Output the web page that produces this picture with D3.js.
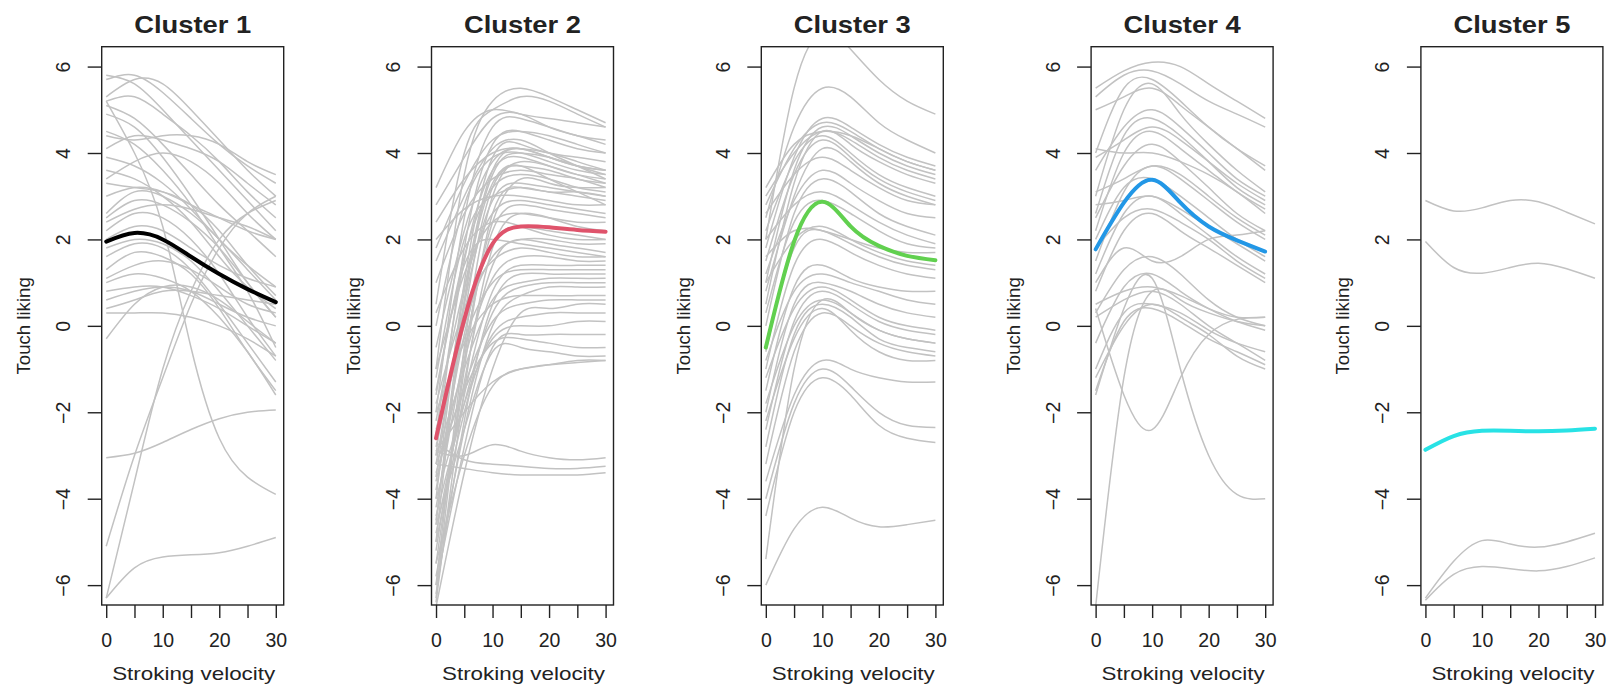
<!DOCTYPE html>
<html>
<head>
<meta charset="utf-8">
<script src="https://cdn.jsdelivr.net/npm/d3@7"></script>
<style>
  body { margin: 0; background: #fff; }
  svg { display: block; font-family: "Liberation Sans", Arial, Helvetica, sans-serif; }
</style>
</head>
<body>
<svg id="chart" width="1608" height="687"></svg>
<script>
var velocity = [0, 5, 10, 15, 20, 25, 30];
var xTicks = [0, 5, 10, 15, 20, 25, 30];
var xTickLabels = [0, 10, 20, 30];
var yTicks = [-6, -4, -2, 0, 2, 4, 6];
var clusterNames = ["Cluster 1", "Cluster 2", "Cluster 3", "Cluster 4", "Cluster 5"];
var meanColors = ["#000000", "#DF536B", "#61D04F", "#2297E6", "#28E2E5"];

var cluster1 = [
  [5.7, 5.8, 5.4, 4.8, 4.2, 3.7, 3.3],
  [5.3, 5.7, 5.6, 5.0, 4.3, 3.6, 3.0],
  [5.8, 5.6, 5.0, 4.3, 3.6, 2.9, 2.2],
  [5.2, 5.3, 4.9, 4.4, 3.8, 3.1, 2.5],
  [5.1, 4.8, 4.2, 3.5, 2.8, 2.2, 1.6],
  [4.9, 4.6, 3.9, 3.0, 2.0, 1.0, 0.2],
  [4.5, 4.2, 3.6, 2.8, 1.8, 0.8, -0.5],
  [4.4, 4.3, 4.4, 4.4, 4.2, 3.8, 3.5],
  [4.1, 4.4, 4.3, 4.1, 3.8, 3.3, 2.8],
  [3.9, 3.7, 3.3, 2.7, 2.0, 1.4, 0.9],
  [3.6, 3.4, 3.0, 2.4, 1.6, 0.9, 0.4],
  [3.4, 3.8, 4.0, 3.8, 3.3, 2.6, 2.0],
  [3.3, 3.2, 3.1, 2.8, 2.2, 1.4, 0.7],
  [3.0, 3.2, 3.1, 2.8, 2.5, 2.2, 2.0],
  [2.6, 3.1, 3.0, 2.6, 2.0, 1.3, 0.6],
  [2.5, 2.9, 2.8, 2.4, 1.8, 1.0, 0.2],
  [2.4, 2.7, 2.8, 2.7, 2.5, 2.3, 2.0],
  [2.2, 2.6, 2.5, 2.0, 1.2, 0.2, -0.7],
  [2.0, 2.3, 2.2, 1.8, 1.4, 1.1, 0.9],
  [1.8, 2.0, 1.9, 1.5, 0.8, 0.0, -0.8],
  [1.6, 1.9, 1.8, 1.3, 0.5, -0.4, -1.3],
  [1.3, 1.7, 1.6, 1.2, 0.4, -0.6, -1.5],
  [1.1, 1.4, 1.5, 1.3, 0.9, 0.5, 0.3],
  [1.0, 1.2, 1.1, 0.8, 0.2, -0.6, -1.6],
  [0.8, 0.9, 0.9, 0.7, 0.4, 0.0, -0.4],
  [0.6, 0.8, 0.9, 0.8, 0.5, 0.2, 0.0],
  [0.4, 0.6, 0.8, 0.8, 0.7, 0.6, 0.5],
  [0.3, 0.3, 0.3, 0.2, 0.0, -0.3, -0.7],
  [-0.3, 0.5, 0.9, 0.9, 0.6, 0.1, -0.4],
  [5.2, 4.0, 2.3, -0.5, -2.6, -3.5, -3.9],
  [-5.1, -3.0, -1.2, 0.5, 1.8, 2.6, 3.0],
  [-6.3, -3.6, -1.0, 0.8, 2.0, 2.6, 2.9],
  [-3.05, -2.95, -2.7, -2.4, -2.15, -2.0, -1.95],
  [-6.3, -5.6, -5.35, -5.3, -5.25, -5.1, -4.9]
];

var cluster2 = [
  [-1.0, 3.5, 5.2, 5.5, 5.3, 5.0, 4.7],
  [0.5, 4.0, 5.0, 5.3, 5.2, 4.9, 4.6],
  [3.2, 4.5, 5.0, 4.9, 4.8, 4.7, 4.6],
  [2.8, 3.9, 4.8, 4.9, 4.6, 4.4, 4.2],
  [-2.0, 2.5, 4.6, 4.8, 4.6, 4.4, 4.3],
  [-3.0, 1.8, 4.2, 4.5, 4.3, 4.1, 4.0],
  [1.8, 3.3, 4.3, 4.5, 4.4, 4.2, 4.0],
  [-4.0, 1.0, 3.9, 4.2, 4.0, 3.9, 3.8],
  [-3.5, 0.8, 3.6, 4.1, 4.0, 3.8, 3.6],
  [-5.0, 0.5, 3.5, 4.0, 3.9, 3.7, 3.5],
  [0.0, 2.8, 3.9, 4.0, 3.8, 3.6, 3.5],
  [-2.5, 1.5, 3.6, 3.9, 3.7, 3.5, 3.4],
  [-6.0, -0.5, 3.0, 3.8, 3.7, 3.5, 3.3],
  [-4.5, 0.2, 3.2, 3.7, 3.6, 3.4, 3.3],
  [1.0, 2.6, 3.4, 3.6, 3.5, 3.4, 3.2],
  [-1.5, 1.6, 3.2, 3.5, 3.4, 3.2, 3.1],
  [-3.2, 0.5, 2.9, 3.3, 3.2, 3.1, 3.0],
  [-5.5, -1.0, 2.6, 3.2, 3.1, 3.0, 2.9],
  [2.0, 2.7, 3.0, 3.0, 2.9, 2.8, 2.8],
  [-2.2, 0.9, 2.6, 2.9, 2.8, 2.7, 2.6],
  [-4.2, -0.6, 2.2, 2.8, 2.7, 2.6, 2.5],
  [-1.0, 1.2, 2.4, 2.6, 2.5, 2.4, 2.4],
  [-6.4, -1.5, 1.8, 2.6, 2.5, 2.3, 2.2],
  [-3.8, -0.2, 1.9, 2.3, 2.2, 2.1, 2.0],
  [-2.8, 0.0, 1.6, 2.0, 2.0, 1.9, 1.9],
  [-5.2, -1.3, 1.4, 2.0, 1.9, 1.8, 1.7],
  [-1.8, 0.4, 1.5, 1.8, 1.7, 1.6, 1.6],
  [-3.6, -0.8, 1.1, 1.6, 1.6, 1.5, 1.5],
  [-4.8, -1.6, 0.8, 1.4, 1.4, 1.4, 1.4],
  [-2.4, -0.3, 1.0, 1.3, 1.3, 1.3, 1.3],
  [-6.2, -2.2, 0.5, 1.2, 1.2, 1.2, 1.2],
  [-3.0, -1.0, 0.6, 1.0, 1.1, 1.1, 1.1],
  [-4.4, -1.8, 0.3, 0.9, 1.0, 1.0, 1.0],
  [-5.8, -2.4, 0.0, 0.7, 0.9, 0.9, 0.9],
  [-2.0, -0.4, 0.5, 0.7, 0.7, 0.7, 0.7],
  [-3.4, -1.4, 0.1, 0.5, 0.6, 0.6, 0.6],
  [-5.0, -2.0, -0.2, 0.2, 0.3, 0.3, 0.3],
  [-4.0, -1.8, -0.3, 0.0, 0.0, 0.1, 0.1],
  [-6.0, -2.8, -0.5, -0.2, -0.2, -0.2, -0.2],
  [-3.2, -1.5, -0.4, -0.3, -0.4, -0.5, -0.5],
  [-4.6, -2.4, -0.6, -0.5, -0.6, -0.7, -0.7],
  [-5.5, -3.0, -1.4, -1.0, -0.9, -0.8, -0.8],
  [-2.9, -2.0, -1.3, -1.0, -0.9, -0.85, -0.8],
  [-2.9, -3.0, -2.75, -2.9, -3.05, -3.1, -3.05],
  [-2.7, -3.1, -3.2, -3.25, -3.3, -3.3, -3.25],
  [-3.2, -3.3, -3.4, -3.45, -3.45, -3.45, -3.4],
  [1.5, 3.0, 4.1, 4.3, 4.0, 3.7, 3.4],
  [2.4, 3.4, 4.0, 4.1, 3.9, 3.7, 3.6],
  [-0.5, 2.2, 3.8, 4.1, 3.9, 3.7, 3.6],
  [-1.2, 2.0, 3.0, 3.2, 3.1, 3.1, 3.0],
  [-4.6, 0.6, 3.3, 3.7, 3.4, 3.1, 2.8],
  [-6.3, -0.8, 2.4, 3.4, 3.3, 3.2, 3.2],
  [0.3, 1.8, 2.4, 2.3, 2.1, 2.0, 2.0],
  [-1.6, 1.4, 2.0, 1.9, 1.8, 1.7, 1.6],
  [-6.5, -3.4, -1.0, 0.3, 0.4, 0.5, 0.5]
];

var cluster3 = [
  [2.0, 5.5, 6.8, 6.4, 5.7, 5.2, 4.9],
  [2.5, 4.6, 5.5, 5.3, 4.7, 4.3, 4.0],
  [1.8, 3.9, 4.8, 4.6, 4.2, 3.9, 3.7],
  [2.8, 4.1, 4.7, 4.5, 4.1, 3.8, 3.6],
  [3.2, 4.2, 4.5, 4.4, 4.1, 3.8, 3.6],
  [1.0, 3.6, 4.6, 4.4, 4.0, 3.7, 3.5],
  [3.0, 4.0, 4.5, 4.3, 3.9, 3.6, 3.4],
  [0.5, 3.3, 4.5, 4.2, 3.8, 3.5, 3.3],
  [2.2, 3.8, 4.4, 4.0, 3.5, 3.2, 3.0],
  [1.5, 3.5, 4.3, 3.9, 3.4, 3.1, 2.9],
  [0.8, 3.0, 4.1, 3.8, 3.3, 3.0, 2.8],
  [2.6, 3.5, 3.9, 3.6, 3.2, 2.9, 2.8],
  [1.2, 2.9, 3.6, 3.3, 2.9, 2.6, 2.5],
  [0.0, 2.6, 3.4, 3.1, 2.6, 2.3, 2.1],
  [2.0, 2.8, 3.1, 2.8, 2.4, 2.1, 1.9],
  [0.3, 2.4, 2.9, 2.6, 2.2, 1.9, 1.8],
  [1.6, 2.2, 2.2, 2.0, 1.8, 1.7, 1.7],
  [1.0, 2.0, 2.3, 2.0, 1.7, 1.5, 1.4],
  [-0.6, 1.8, 2.2, 1.9, 1.6, 1.4, 1.3],
  [-1.0, 1.4, 2.0, 1.7, 1.4, 1.2, 1.1],
  [-1.5, 0.9, 1.4, 1.1, 0.9, 0.8, 0.8],
  [-0.8, 0.8, 1.2, 1.0, 0.8, 0.6, 0.5],
  [-2.0, 0.5, 1.0, 0.8, 0.5, 0.3, 0.2],
  [-1.2, 0.4, 0.9, 0.6, 0.2, 0.0, -0.1],
  [-2.4, 0.1, 0.8, 0.5, 0.1, -0.1, -0.2],
  [-1.8, 0.0, 0.6, 0.3, -0.1, -0.3, -0.4],
  [-5.4, -1.0, 0.6, 0.3, -0.1, -0.3, -0.4],
  [-2.8, -0.2, 0.5, 0.2, -0.3, -0.5, -0.6],
  [-3.2, -0.6, 0.3, 0.0, -0.4, -0.6, -0.7],
  [-2.2, -0.3, 0.4, -0.1, -0.6, -0.8, -0.8],
  [-3.6, -1.6, -0.8, -1.0, -1.2, -1.3, -1.3],
  [-4.0, -1.8, -1.0, -1.4, -2.0, -2.3, -2.35],
  [-4.4, -2.0, -1.2, -1.6, -2.3, -2.6, -2.7],
  [-6.0, -4.7, -4.2, -4.45, -4.65, -4.6, -4.5]
];

var cluster4 = [
  [5.5, 5.9, 6.1, 6.0, 5.6, 5.2, 4.8],
  [5.3, 5.8, 5.9, 5.6, 5.2, 4.9, 4.6],
  [4.0, 5.5, 5.7, 5.2, 4.6, 4.1, 3.7],
  [5.0, 5.3, 5.5, 5.1, 4.6, 4.1, 3.6],
  [3.0, 5.0, 5.6, 4.9, 4.2, 3.6, 3.1],
  [3.6, 4.6, 5.0, 4.6, 4.0, 3.4, 3.0],
  [2.6, 4.4, 4.8, 4.4, 3.8, 3.2, 2.8],
  [3.9, 4.3, 4.6, 4.3, 3.8, 3.3, 2.9],
  [2.2, 4.0, 4.5, 4.1, 3.6, 3.1, 2.7],
  [4.1, 4.0, 4.0, 3.8, 3.5, 3.1, 2.6],
  [2.5, 3.7, 4.2, 3.8, 3.2, 2.6, 2.2],
  [3.1, 3.4, 3.7, 3.5, 3.0, 2.5, 2.1],
  [1.5, 3.1, 3.7, 3.4, 2.9, 2.4, 2.0],
  [2.0, 3.2, 3.4, 3.0, 2.5, 2.0, 1.6],
  [2.8, 2.9, 3.0, 2.7, 2.3, 1.9, 1.5],
  [1.2, 2.6, 3.0, 2.6, 2.1, 1.6, 1.2],
  [1.8, 2.5, 2.7, 2.4, 2.0, 1.5, 1.1],
  [0.8, 2.2, 2.6, 2.2, 1.8, 1.4, 1.0],
  [1.0, 1.8, 1.5, 1.6, 2.0, 2.1, 2.2],
  [0.3, 1.3, 1.6, 1.2, 0.6, 0.2, 0.0],
  [-0.4, 0.9, 1.2, 0.8, 0.4, 0.1, -0.1],
  [0.5, 0.8, 0.9, 0.7, 0.4, 0.2, 0.2],
  [0.2, 0.6, 0.8, 0.5, 0.0, -0.4, -0.8],
  [-1.0, 0.3, 0.5, 0.3, -0.1, -0.4, -0.6],
  [-1.5, 0.1, 0.4, 0.1, -0.3, -0.6, -0.9],
  [-1.2, 0.0, 0.5, 0.2, -0.2, -0.7, -1.0],
  [0.4, -1.6, -2.4, -1.2, -0.2, 0.15, 0.2],
  [-1.6, 0.4, 1.1, -1.0, -3.0, -3.9, -4.0],
  [-6.5, -1.2, 0.8, 0.6, 0.3, 0.1, 0.0]
];

var cluster5 = [
  [2.9, 2.66, 2.73, 2.9, 2.87, 2.63, 2.36],
  [1.95, 1.35, 1.22, 1.35, 1.45, 1.32, 1.1],
  [-6.3, -5.45, -4.97, -5.05, -5.12, -5.0, -4.8],
  [-6.35, -5.75, -5.57, -5.62, -5.67, -5.57, -5.37]
];

var clusterMeans = [
  [1.95, 2.15, 2.0, 1.6, 1.2, 0.85, 0.55],
  [-2.6, 0.15, 1.9, 2.3, 2.28, 2.22, 2.18],
  [-0.5, 1.95, 2.87, 2.3, 1.85, 1.62, 1.52],
  [1.77, 2.85, 3.38, 2.85, 2.3, 1.98, 1.72],
  [-2.87, -2.55, -2.43, -2.43, -2.44, -2.42, -2.38]
];

var clusters = [cluster1, cluster2, cluster3, cluster4, cluster5];

var svg = d3.select('#chart');
var panelStep = 329.8;
var boxLeft = 101.7, boxWidth = 182, boxTop = 46.7, boxBottom = 605;

var y = d3.scaleLinear().domain([-6.46, 6.46]).range([boxBottom, boxTop]);

clusters.forEach(function (lines, i) {
  var left = boxLeft + i * panelStep;
  var x = d3.scaleLinear().domain([-0.8, 31.4]).range([left, left + boxWidth]);
  var line = d3.line()
    .x(function (d, j) { return x(velocity[j]); })
    .y(function (d) { return y(d); })
    .curve(d3.curveNatural);

  var g = svg.append('g');

  svg.append('clipPath').attr('id', 'clip' + i)
    .append('rect')
    .attr('x', left).attr('y', boxTop)
    .attr('width', boxWidth).attr('height', boxBottom - boxTop);

  var plot = g.append('g').attr('clip-path', 'url(#clip' + i + ')');

  plot.selectAll('path.curve')
    .data(lines)
    .enter()
    .append('path')
    .attr('class', 'curve')
    .attr('d', line)
    .attr('fill', 'none')
    .attr('stroke', '#c2c2c2')
    .attr('stroke-width', 1.5);

  plot.append('path')
    .attr('d', line(clusterMeans[i]))
    .attr('fill', 'none')
    .attr('stroke', meanColors[i])
    .attr('stroke-width', 4)
    .attr('stroke-linecap', 'round');

  // box
  g.append('rect')
    .attr('x', left).attr('y', boxTop)
    .attr('width', boxWidth).attr('height', boxBottom - boxTop)
    .attr('fill', 'none')
    .attr('stroke', '#222')
    .attr('stroke-width', 1.4);

  // x axis
  var xAxis = g.append('g')
    .attr('transform', 'translate(0,' + boxBottom + ')')
    .call(d3.axisBottom(x).tickValues(xTicks).tickSize(13)
      .tickFormat(function (d) { return xTickLabels.indexOf(d) >= 0 ? d : ''; }));
  xAxis.select('.domain').remove();
  xAxis.selectAll('line').attr('stroke', '#222').attr('stroke-width', 1.4);
  xAxis.selectAll('text')
    .attr('y', 42).attr('dy', 0)
    .attr('font-size', 19.5)
    .attr('font-family', null)
    .attr('fill', '#222');

  // y axis
  var yAxis = g.append('g')
    .attr('transform', 'translate(' + left + ',0)')
    .call(d3.axisLeft(y).tickValues(yTicks).tickSize(14));
  yAxis.select('.domain').remove();
  yAxis.selectAll('line').attr('stroke', '#222').attr('stroke-width', 1.4);
  yAxis.selectAll('text')
    .attr('x', 0).attr('dy', 0)
    .attr('transform', 'translate(-31.5,0) rotate(-90)')
    .attr('text-anchor', 'middle')
    .attr('font-size', 19.5)
    .attr('font-family', null)
    .attr('fill', '#222');

  var cx = left + boxWidth / 2;

  g.append('text')
    .attr('x', cx).attr('y', 32.5)
    .attr('text-anchor', 'middle')
    .attr('font-weight', 'bold')
    .attr('font-size', 24.5)
    .attr('textLength', 117)
    .attr('lengthAdjust', 'spacingAndGlyphs')
    .attr('fill', '#222')
    .text(clusterNames[i]);

  g.append('text')
    .attr('x', cx + 1).attr('y', 680)
    .attr('text-anchor', 'middle')
    .attr('font-size', 18.6)
    .attr('textLength', 163)
    .attr('lengthAdjust', 'spacingAndGlyphs')
    .attr('fill', '#222')
    .text('Stroking velocity');

  g.append('text')
    .attr('transform', 'translate(' + (left - 71.5) + ',' + y(0) + ') rotate(-90)')
    .attr('text-anchor', 'middle')
    .attr('font-size', 18.6)
    .attr('fill', '#222')
    .text('Touch liking');
});
</script>
</body>
</html>
